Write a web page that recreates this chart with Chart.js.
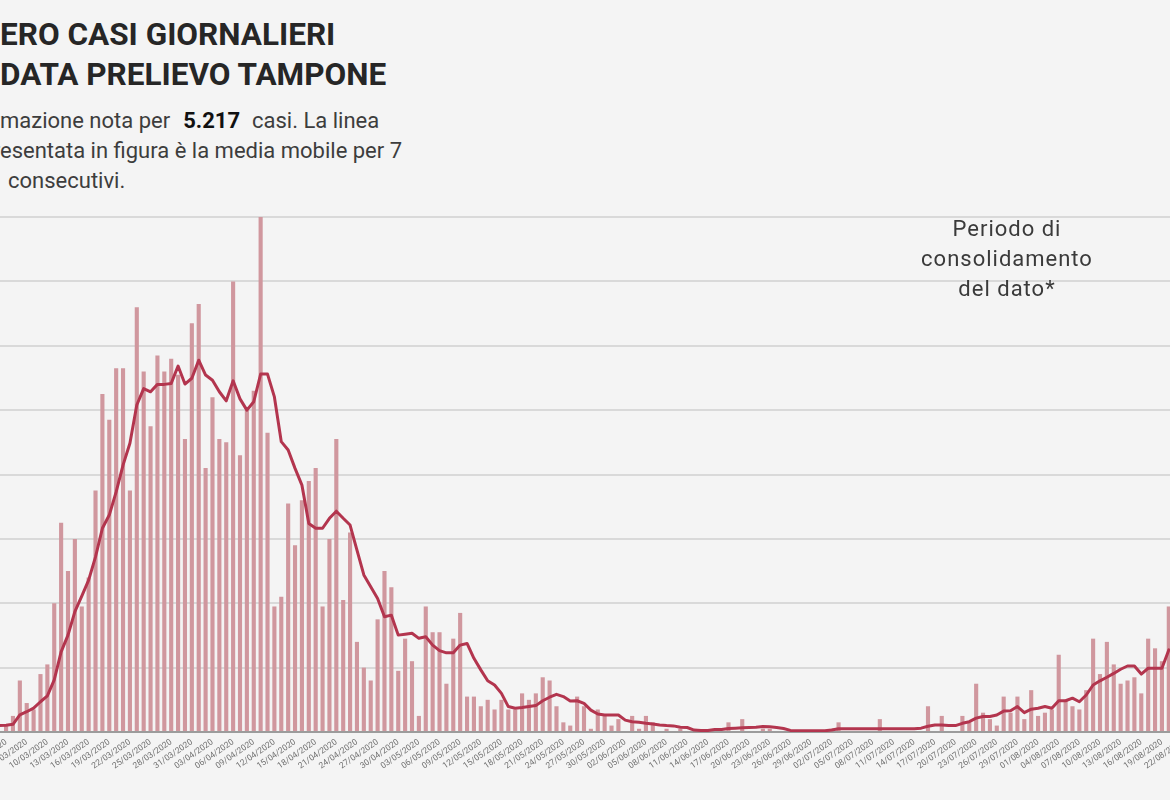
<!DOCTYPE html>
<html lang="it">
<head>
<meta charset="utf-8">
<title>Numero casi giornalieri per data prelievo tampone</title>
<script src="https://cdn.jsdelivr.net/npm/chart.js@4.4.1/dist/chart.umd.min.js"></script>
<style>
  html, body { margin: 0; padding: 0; }
  body {
    width: 1170px; height: 800px; overflow: hidden; position: relative;
    background: #f4f4f4; font-family: Roboto, "Noto Sans", sans-serif;
  }
  .ln { position: absolute; left: 0; white-space: pre; }
  .title { font-weight: 700; font-size: 31.5px; line-height: 31.5px; color: #262626; }
  .sub { font-size: 22px; line-height: 22px; color: #3d3d3d; }
  .sub b { color: #111; font-weight: 700; margin: 0 12px 0 13px; }
  .note {
    position: absolute; left: 857px; width: 300px; text-align: center;
    font-size: 22px; line-height: 22px; color: #3a3a3a; letter-spacing: 1px;
  }
  #chartBox { position: absolute; left: -18px; top: 207px; }
</style>
</head>
<body>

<div class="ln title" style="top:18.5px"><span class="cut">NUM</span>ERO CASI GIORNALIERI</div>
<div class="ln title" style="top:58.5px"><span class="cut">PER </span>DATA PRELIEVO TAMPONE</div>
<div class="ln sub" style="top:109.8px"><span class="cut">Infor</span>mazione nota per<b>5.217</b>casi. La linea</div>
<div class="ln sub" style="top:139.8px"><span class="cut">rappr</span>esentata in figura è la media mobile per 7</div>
<div class="ln sub" style="top:169.8px"><span class="cut">giorni</span><span style="margin-left:8px">consecutivi.</span></div>

<div id="chartBox"><canvas id="casiChart" width="1204" height="585"></canvas></div>

<div class="note" style="top:217.5px">Periodo di</div>
<div class="note" style="top:247.5px">consolidamento</div>
<div class="note" style="top:278px">del dato*</div>

<script>
// Giorni (categorie): dal 01/03/2020 al 22/08/2020
const giorni = [
  '01/03/2020','02/03/2020','03/03/2020','04/03/2020','05/03/2020','06/03/2020','07/03/2020','08/03/2020','09/03/2020','10/03/2020',
  '11/03/2020','12/03/2020','13/03/2020','14/03/2020','15/03/2020','16/03/2020','17/03/2020','18/03/2020','19/03/2020','20/03/2020',
  '21/03/2020','22/03/2020','23/03/2020','24/03/2020','25/03/2020','26/03/2020','27/03/2020','28/03/2020','29/03/2020','30/03/2020','31/03/2020',
  '01/04/2020','02/04/2020','03/04/2020','04/04/2020','05/04/2020','06/04/2020','07/04/2020','08/04/2020','09/04/2020','10/04/2020',
  '11/04/2020','12/04/2020','13/04/2020','14/04/2020','15/04/2020','16/04/2020','17/04/2020','18/04/2020','19/04/2020','20/04/2020',
  '21/04/2020','22/04/2020','23/04/2020','24/04/2020','25/04/2020','26/04/2020','27/04/2020','28/04/2020','29/04/2020','30/04/2020',
  '01/05/2020','02/05/2020','03/05/2020','04/05/2020','05/05/2020','06/05/2020','07/05/2020','08/05/2020','09/05/2020','10/05/2020',
  '11/05/2020','12/05/2020','13/05/2020','14/05/2020','15/05/2020','16/05/2020','17/05/2020','18/05/2020','19/05/2020','20/05/2020',
  '21/05/2020','22/05/2020','23/05/2020','24/05/2020','25/05/2020','26/05/2020','27/05/2020','28/05/2020','29/05/2020','30/05/2020','31/05/2020',
  '01/06/2020','02/06/2020','03/06/2020','04/06/2020','05/06/2020','06/06/2020','07/06/2020','08/06/2020','09/06/2020','10/06/2020',
  '11/06/2020','12/06/2020','13/06/2020','14/06/2020','15/06/2020','16/06/2020','17/06/2020','18/06/2020','19/06/2020','20/06/2020',
  '21/06/2020','22/06/2020','23/06/2020','24/06/2020','25/06/2020','26/06/2020','27/06/2020','28/06/2020','29/06/2020','30/06/2020',
  '01/07/2020','02/07/2020','03/07/2020','04/07/2020','05/07/2020','06/07/2020','07/07/2020','08/07/2020','09/07/2020','10/07/2020',
  '11/07/2020','12/07/2020','13/07/2020','14/07/2020','15/07/2020','16/07/2020','17/07/2020','18/07/2020','19/07/2020','20/07/2020',
  '21/07/2020','22/07/2020','23/07/2020','24/07/2020','25/07/2020','26/07/2020','27/07/2020','28/07/2020','29/07/2020','30/07/2020','31/07/2020',
  '01/08/2020','02/08/2020','03/08/2020','04/08/2020','05/08/2020','06/08/2020','07/08/2020','08/08/2020','09/08/2020','10/08/2020',
  '11/08/2020','12/08/2020','13/08/2020','14/08/2020','15/08/2020','16/08/2020','17/08/2020','18/08/2020','19/08/2020','20/08/2020',
  '21/08/2020','22/08/2020'
];

// Casi giornalieri (barre)
const casiMarzo  = [null, null, null, 2, 5, 16, 9, 7, 18, 21, 40, 65, 50, 60, 39, 48, 75, 105, 97, 113, 113, 75, 132, 112, 95, 117, 112, 116, 111, 91, 127];
const casiAprile = [133, 82, 104, 91, 90, 140, 86, 100, 106, 160, 93, 39, 42, 71, 58, 72, 78, 82, 39, 60, 91, 41, 62, 28, 20, 16, 35, 50, 45, 19];
const casiMaggio = [29, 22, 5, 39, 31, 31, 15, 29, 37, 11, 11, 8, 10, 7, 10, 7, 7, 12, 10, 12, 17, 16, 8, 3, 2, 11, 8, 1, 7, 5, 2];
const casiGiugno = [4, 0, 5, 1, 5, 3, 0, 1, 0, 1, 0, 0, 0, 0, 0, 0, 3, 0, 4, 0, 0, 1, 1, 0, 0, 0, 0, 0, 0, 0];
const casiLuglio = [0, 1, 3, 0, 0, 0, 0, 0, 4, 0, 0, 0, 0, 0, 0, 8, 0, 5, 0, 0, 5, 3, 15, 6, 4, 2, 11, 6, 11, 4, 13];
const casiAgosto = [5, 6, 7, 24, 10, 8, 7, 13, 29, 18, 28, 21, 15, 16, 17, 12, 29, 26, 22, 39, null, null];

// Media mobile 7 giorni (linea)
const mediaMarzo  = [null, null, 2.0, 2.1, 2.4, 5.3, 6.3, 7.4, 9.4, 11.2, 16.2, 24.9, 30.1, 37.4, 42.2, 47.2, 54.4, 63.3, 67.4, 74.6, 82.9, 89.7, 101.6, 106.7, 105.7, 108, 108, 108.3, 113.7, 108.1, 109.9];
const mediaAprile = [115.5, 110.9, 109.3, 105.7, 102.9, 109.1, 103.5, 100, 102.6, 111.2, 111.2, 104.1, 90.2, 87.6, 81.9, 76.7, 64.8, 63.3, 63.3, 66.4, 68.6, 66.4, 64.3, 56.5, 48.8, 45.1, 41.5, 35.8, 36.3, 30.1];
const mediaMaggio = [30.4, 30.7, 29.1, 29.6, 27, 25.3, 24.6, 24.6, 27, 27.5, 22.9, 19.3, 15.9, 14.6, 12, 7.9, 7.4, 7.6, 7.9, 8.2, 9.7, 10.8, 11.7, 11, 9.6, 9.7, 8.9, 6.8, 5.6, 5.3, 5.3];
const mediaGiugno = [5.3, 3.7, 3.2, 3, 2.7, 2.5, 2.2, 2, 1.9, 1.5, 1.4, 0.6, 0.5, 0.5, 0.8, 0.8, 1.1, 1.2, 1.3, 1.4, 1.5, 1.7, 1.6, 1.4, 1.1, 0.5, 0.4, 0.4, 0.4, 0.4];
const mediaLuglio = [0.4, 0.6, 1, 1, 1, 1, 1, 1, 1, 1, 1, 1, 1, 1, 1.2, 1.8, 2.2, 2.2, 2, 2, 2.7, 3.2, 4.3, 4.8, 4.8, 5.3, 6.5, 6.6, 7.9, 6, 7.1];
const mediaAgosto = [7.4, 7.9, 7.4, 9.7, 9.7, 10.5, 9.4, 11.5, 14.6, 15.9, 17, 18.2, 19.5, 20.5, 20.5, 18, 19.8, 19.8, 19.8, 25.5, null, null];

// Asse y: 0-160, una linea ogni 20 casi (etichette fuori dal ritaglio)
const yMax = 160;
const yStep = 20;

const casiGiornalieri = [].concat(casiMarzo, casiAprile, casiMaggio, casiGiugno, casiLuglio, casiAgosto);
const mediaMobile = [].concat(mediaMarzo, mediaAprile, mediaMaggio, mediaGiugno, mediaLuglio, mediaAgosto);

// Le righe di testo sono tagliate a sinistra come nell'originale
function placeCutLines() {
    document.querySelectorAll('.ln').forEach(el => {
        const cut = el.querySelector('.cut');
        el.style.left = (-cut.getBoundingClientRect().width) + 'px';
    });
}
placeCutLines();
if (document.fonts) document.fonts.ready.then(placeCutLines);

const ctx = document.getElementById('casiChart').getContext('2d');
const casiChart = new Chart(ctx, {
    type: 'bar',
    data: {
        labels: giorni,
        datasets: [
            {
                type: 'line',
                label: 'Media mobile 7 giorni',
                data: mediaMobile,
                borderColor: '#b3354e',
                borderWidth: 3,
                pointRadius: 0,
                tension: 0,
                borderJoinStyle: 'round',
                borderCapStyle: 'round',
                order: 1   // sopra le barre
            },
            {
                type: 'bar',
                label: 'Casi giornalieri',
                data: casiGiornalieri,
                backgroundColor: '#d0979e',
                barPercentage: 0.6,
                categoryPercentage: 1,
                order: 2
            }
        ]
    },
    options: {
        responsive: false,
        animation: false,
        layout: { padding: { top: 10, left: 0, right: 0, bottom: 0 } },
        plugins: {
            legend: { display: false },
            tooltip: { enabled: false }
        },
        scales: {
            x: {
                grid: { display: false, drawTicks: false },
                border: { display: false },
                ticks: {
                    autoSkip: false,
                    minRotation: 35,
                    maxRotation: 35,
                    padding: 5,
                    color: '#707070',
                    font: { family: 'Roboto', size: 8.5 },
                    // una data ogni tre giorni
                    callback: function(value, index) {
                        return index % 3 === 0 ? this.getLabelForValue(value) : '';
                    }
                },
                afterFit: function(scale) {
                    scale.height = 60;
                    scale.paddingLeft = 0;
                    scale.paddingRight = 0;
                }
            },
            y: {
                min: 0,
                max: yMax,
                ticks: { stepSize: yStep, display: false },
                border: { display: false },
                grid: {
                    drawTicks: false,
                    lineWidth: 2,
                    color: c => c.tick && c.tick.value === 0 ? '#9c9c9c' : '#d9d9d9'
                },
                afterFit: function(scale) {
                    scale.width = 0;
                }
            }
        }
    }
});
</script>
</body>
</html>
